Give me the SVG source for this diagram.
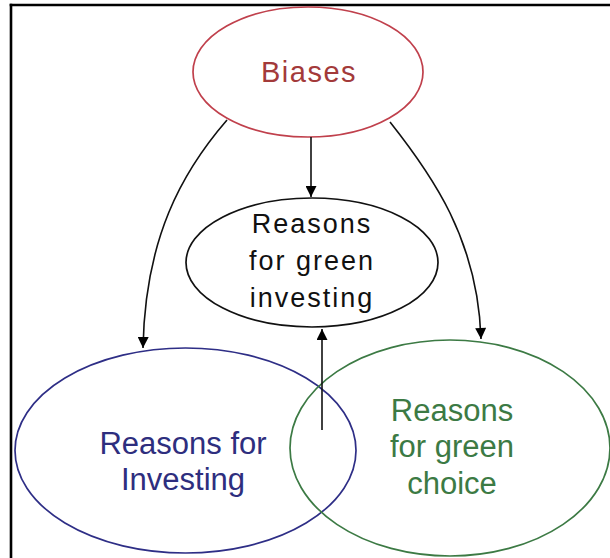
<svg xmlns="http://www.w3.org/2000/svg" width="610" height="558" viewBox="0 0 610 558">
<defs>
<marker id="ah" viewBox="0 0 10 10" refX="10" refY="5" markerUnits="userSpaceOnUse" markerWidth="20" markerHeight="11" orient="auto">
<path d="M0,0 L10,5 L0,10 z" fill="#000"/>
</marker>
</defs>
<style>
.node{fill:none;stroke-width:1.7}
.t{font-family:"Liberation Sans",Arial,sans-serif;text-anchor:middle}
.edge{fill:none;stroke:#111;stroke-width:1.6;marker-end:url(#ah)}
</style>
<rect x="0" y="0" width="610" height="558" fill="#fff"/>
<g id="frame" stroke="#000" stroke-width="2.6" fill="none">
<line x1="11" y1="3.7" x2="11" y2="558"/>
<line x1="9.7" y1="5" x2="610" y2="5"/>
</g>
<g id="biases">
<ellipse class="node" cx="308" cy="72" rx="115" ry="65" stroke="#c0404c"/>
<text class="t" x="309" y="82" font-size="29" letter-spacing="1.5" fill="#a33a3a">Biases</text>
</g>
<g id="green-investing">
<ellipse class="node" cx="312" cy="262.5" rx="126" ry="64.5" stroke="#111"/>
<text class="t" font-size="27" letter-spacing="2" fill="#111"><tspan x="312" y="233">Reasons</tspan><tspan x="312" y="270">for green</tspan><tspan x="312" y="307">investing</tspan></text>
</g>
<g id="investing">
<ellipse class="node" cx="185.5" cy="450.5" rx="170.5" ry="102.5" stroke="#2e2e86"/>
<text class="t" font-size="31" fill="#2e2e7e"><tspan x="183" y="454">Reasons for</tspan><tspan x="183" y="490">Investing</tspan></text>
</g>
<g id="green-choice">
<ellipse class="node" cx="450" cy="448" rx="160" ry="108" stroke="#3c7a44"/>
<text class="t" font-size="31" fill="#3c7a44"><tspan x="452" y="421">Reasons</tspan><tspan x="452" y="457">for green</tspan><tspan x="452" y="494">choice</tspan></text>
</g>
<g id="connectors">
<path class="edge" d="M311,137 L311,197"/>
<path class="edge" d="M227,120 C182,172 145,238 143,348"/>
<path class="edge" d="M390,122 C432,175 478,240 481,339"/>
<path class="edge" d="M322,430 L322,329"/>
</g>
</svg>
